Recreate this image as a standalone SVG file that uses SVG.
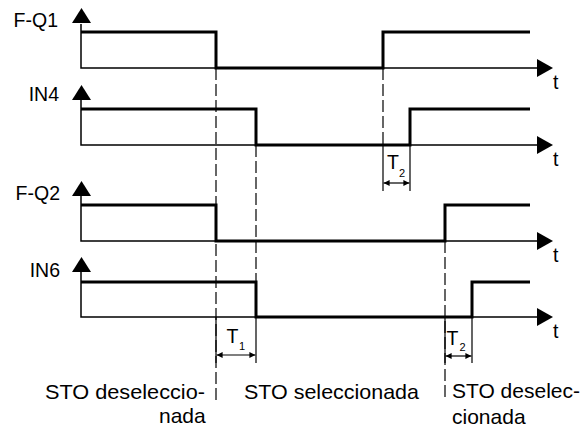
<svg xmlns="http://www.w3.org/2000/svg" width="585" height="429" viewBox="0 0 585 429">
<style>
.ax{stroke:#000;stroke-width:1.5;fill:none}
.sig{stroke:#000;stroke-width:3;fill:none;stroke-linejoin:miter;stroke-linecap:butt}
.dash{stroke:#000;stroke-width:1.2;stroke-dasharray:12 4;fill:none}
.tick{stroke:#000;stroke-width:1.2;fill:none}
.dim{stroke:#000;stroke-width:1.2;fill:none;marker-start:url(#ah);marker-end:url(#ah)}
.head{fill:#000}
text{font-family:"Liberation Sans",Arial,sans-serif;fill:#000}
.lbl{font-size:19.5px}
.big{font-size:21px}
.sub{font-size:11px}
</style>
<defs>
<marker id="ah" viewBox="0 0 10 10" refX="10" refY="5" markerWidth="7" markerHeight="6" orient="auto-start-reverse" markerUnits="userSpaceOnUse"><path d="M0,0 L10,5 L0,10 z" fill="#000"/></marker>
</defs>
<rect width="585" height="429" fill="#fff"/>

<g id="channel-FQ1">
<path class="ax" d="M81,24 V68 H537"/>
<polygon class="head" points="72,23 91,23 81.5,8"/>
<polygon class="head" points="537,59 537,77 553,68"/>
<path class="sig" d="M81,32 H216 V68 H383 V32 H530"/>
<text class="lbl" x="58" y="27" text-anchor="end">F-Q1</text>
<text class="lbl" x="553" y="89">t</text>
</g>

<g id="channel-IN4">
<path class="ax" d="M81,100 V145 H537"/>
<polygon class="head" points="72,100 91,100 81.5,85"/>
<polygon class="head" points="537,136 537,154 553,145"/>
<path class="sig" d="M81,109 H256 V145 H410 V109 H530"/>
<text class="lbl" x="59" y="101" text-anchor="end">IN4</text>
<text class="lbl" x="553" y="166">t</text>
</g>

<g id="channel-FQ2">
<path class="ax" d="M81,196 V241 H537"/>
<polygon class="head" points="72,196 91,196 81.5,181"/>
<polygon class="head" points="537,232 537,250 553,241"/>
<path class="sig" d="M81,205 H216 V241 H445 V205 H530"/>
<text class="lbl" x="60" y="200" text-anchor="end">F-Q2</text>
<text class="lbl" x="553" y="262">t</text>
</g>

<g id="channel-IN6">
<path class="ax" d="M81,272 V317 H537"/>
<polygon class="head" points="72,272 91,272 81.5,257"/>
<polygon class="head" points="537,308 537,326 553,317"/>
<path class="sig" d="M81,282 H256 V317 H472 V282 H530"/>
<text class="lbl" x="60" y="277" text-anchor="end">IN6</text>
<text class="lbl" x="553" y="338">t</text>
</g>

<g id="connectors">
<path class="dash" d="M216,68 V400"/>
<path class="dash" d="M256,145 V317"/>
<path class="dash" d="M383,68 V145"/>
<path class="dash" d="M445,241 V400"/>
<path class="tick" d="M216,317 V363 M256,317 V363"/>
<path class="tick" d="M383,145 V191 M410,145 V191"/>
<path class="tick" d="M445,317 V363 M472,317 V363"/>
<path class="dim" d="M216.6,355 H255.4"/>
<path class="dim" d="M383.6,183 H409.4"/>
<path class="dim" d="M445.6,356 H471.4"/>
</g>

<g id="marker-T2-upper">
<text class="lbl" x="387" y="169">T</text>
<text class="sub" x="399" y="177">2</text>
</g>
<g id="marker-T1">
<text class="lbl" x="226.5" y="343">T</text>
<text class="sub" x="239" y="350">1</text>
</g>
<g id="marker-T2-lower">
<text class="lbl" x="446.5" y="345">T</text>
<text class="sub" x="459.5" y="351">2</text>
</g>

<g id="state-labels">
<text class="big" x="45" y="399" textLength="160" lengthAdjust="spacingAndGlyphs">STO deseleccio-</text>
<text class="big" x="205.7" y="423" text-anchor="end">nada</text>
<text class="big" x="244" y="399" textLength="175" lengthAdjust="spacingAndGlyphs">STO seleccionada</text>
<text class="big" x="452" y="398">STO deselec-</text>
<text class="big" x="452" y="424">cionada</text>
</g>
</svg>
